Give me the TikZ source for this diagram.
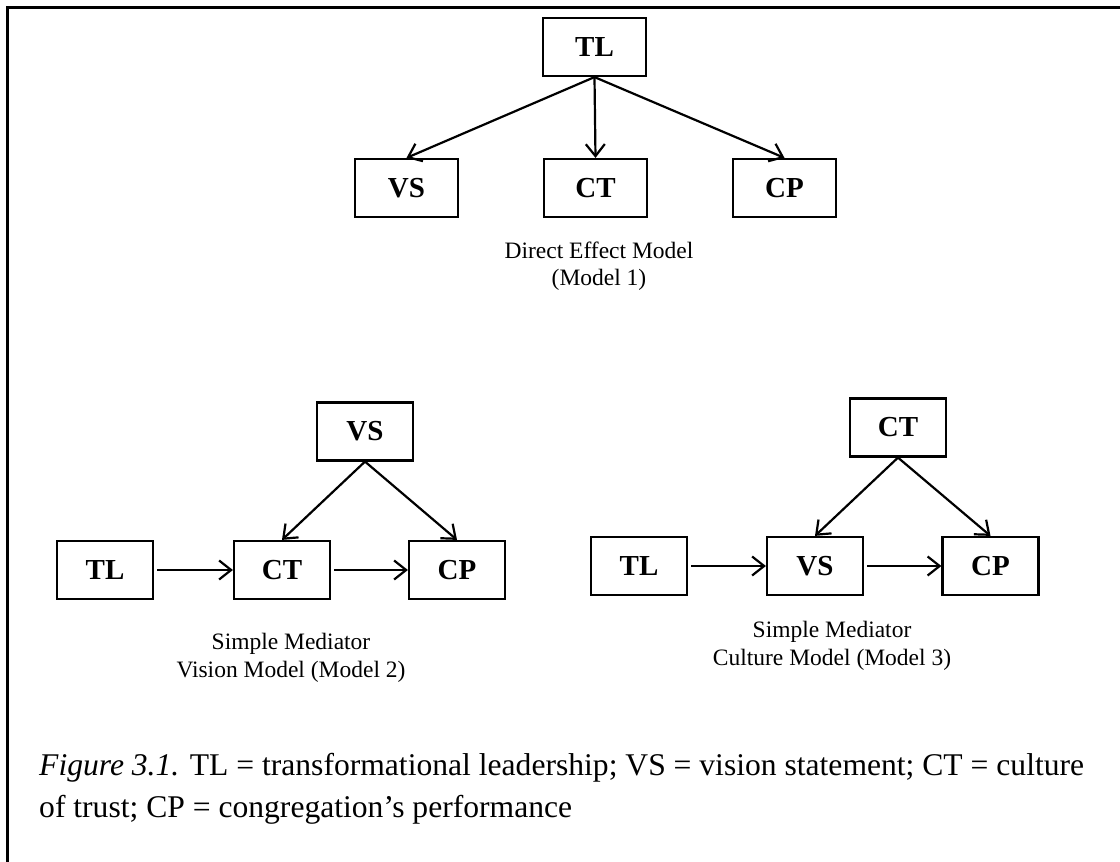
\documentclass[tikz,border=0pt]{standalone}
\usepackage{fontspec}
\setmainfont{Liberation Serif}
\usetikzlibrary{arrows.meta}
\tikzset{
  box/.style={draw, line width=2.2pt, minimum width=96pt, minimum height=58pt, inner sep=0pt,
    font=\fontsize{29}{32}\selectfont\bfseries},
  wbox/.style={box, minimum width=103pt},
  arr/.style={line width=2.2pt, -{Straight Barb[length=12pt,width=19pt]}},
  mcap/.style={align=center, font=\fontsize{23.5}{27.5}\selectfont},
  fig/.style={align=left, anchor=base west, inner sep=0pt, font=\fontsize{31.6}{41.5}\selectfont}
}
\begin{document}
\begin{tikzpicture}[x=1pt,y=-1pt]
\useasboundingbox (0,0) rectangle (1120,862);
\draw[line width=3pt] (1120,7) -- (7,7) -- (7,862);
% Model 1
\node[wbox] (tl1) at (594.5,47) {TL};
\node[wbox] (vs1) at (406.5,188) {VS};
\node[wbox] (ct1) at (595.5,188) {CT};
\node[wbox] (cp1) at (784.5,188) {CP};
\draw[arr] (tl1.south) -- (vs1.north);
\draw[arr] (tl1.south) -- (ct1.north);
\draw[arr] (tl1.south) -- (cp1.north);
\node[mcap] (m1) at (599,266) {Direct Effect Model\\(Model 1)};
% Model 2
\node[box] (vs2) at (365,431.5) {VS};
\node[box] (tl2) at (105,570) {TL};
\node[box] (ct2) at (282,570) {CT};
\node[box] (cp2) at (457,570) {CP};
\draw[arr] (vs2.south) -- (ct2.north);
\draw[arr] (vs2.south) -- (cp2.north);
\draw[arr, shorten <=3pt] (tl2.east) -- (ct2.west);
\draw[arr, shorten <=3pt] (ct2.east) -- (cp2.west);
\node[mcap] (m2) at (291,658) {Simple Mediator\\Vision Model (Model 2)};
% Model 3
\node[box] (ct3) at (898,427.5) {CT};
\node[box] (tl3) at (639,566) {TL};
\node[box] (vs3) at (815,566) {VS};
\node[box] (cp3) at (990.5,566) {CP};
\draw[arr] (ct3.south) -- (vs3.north);
\draw[arr] (ct3.south) -- (cp3.north);
\draw[arr, shorten <=3pt] (tl3.east) -- (vs3.west);
\draw[arr, shorten <=3pt] (vs3.east) -- (cp3.west);
\node[mcap] (m3) at (832,646) {Simple Mediator\\Culture Model (Model 3)};
% Caption
\node[fig] (cap) at (39,817) {\textit{Figure 3.1.} TL = transformational leadership; VS = vision statement; CT = culture\\of trust; CP = congregation’s performance};
\end{tikzpicture}
\end{document}
